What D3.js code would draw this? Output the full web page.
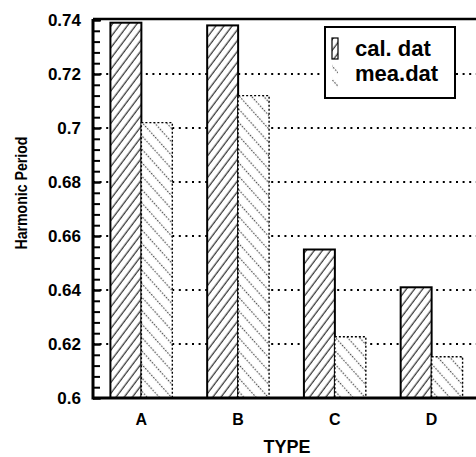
<!DOCTYPE html>
<html>
<head>
<meta charset="utf-8">
<script src="https://d3js.org/d3.v7.min.js"></script>
<style>
  body { margin: 0; background: #fff; }
  svg { display: block; font-family: "Liberation Sans", Arial, Helvetica, sans-serif; }
</style>
</head>
<body>
<div id="chart"></div>
<script>
// Harmonic period per type, calculated vs measured
const types = ['A', 'B', 'C', 'D'];
const calValues = [0.739, 0.738, 0.655, 0.641];
const meaValues = [0.702, 0.712, 0.6227, 0.6153];
const seriesNames = ['cal. dat', 'mea.dat'];
const majorTicks = [0.6, 0.62, 0.64, 0.66, 0.68, 0.7, 0.72, 0.74];
const tickLabels = ['0.6', '0.62', '0.64', '0.66', '0.68', '0.7', '0.72', '0.74'];

const width = 476, height = 457;
const plotLeft = 93, plotRight = 480, plotTop = 20, plotBottom = 398;

const svg = d3.select('#chart').append('svg')
    .attr('width', width)
    .attr('height', height);

// hatch patterns
const defs = svg.append('defs');
const calPat = defs.append('pattern')
    .attr('id', 'calHatch')
    .attr('patternUnits', 'userSpaceOnUse')
    .attr('width', 6.5).attr('height', 6.5)
    .attr('patternTransform', 'rotate(37)');
calPat.append('rect').attr('width', 6.5).attr('height', 6.5).attr('fill', '#fff');
calPat.append('line')
    .attr('x1', 3).attr('y1', 0).attr('x2', 3).attr('y2', 6.5)
    .attr('stroke', '#000').attr('stroke-width', 1);

const meaPat = defs.append('pattern')
    .attr('id', 'meaHatch')
    .attr('patternUnits', 'userSpaceOnUse')
    .attr('width', 9).attr('height', 9)
    .attr('patternTransform', 'rotate(-42)');
meaPat.append('rect').attr('width', 9).attr('height', 9).attr('fill', '#fff');
meaPat.append('line')
    .attr('x1', 4.5).attr('y1', 0).attr('x2', 4.5).attr('y2', 9)
    .attr('stroke', '#444').attr('stroke-width', 1.2)
    .attr('stroke-dasharray', '1.5,1.5');

const y = d3.scaleLinear().domain([0.6, 0.74]).range([plotBottom, plotTop]);
const x = d3.scaleBand().domain(types).range([plotLeft, plotRight])
    .paddingInner(0.36).paddingOuter(0.18);
const xs = d3.scaleBand().domain(seriesNames).range([0, x.bandwidth()]);

// dotted grid
svg.append('g')
    .selectAll('line')
    .data(majorTicks.filter(d => d > 0.6 && d < 0.74))
    .join('line')
    .attr('x1', plotLeft).attr('x2', plotRight)
    .attr('y1', d => y(d)).attr('y2', d => y(d))
    .attr('stroke', '#000')
    .attr('stroke-width', 1.8)
    .attr('stroke-dasharray', '2,4.6');

// bars
const rows = types.map((t, i) => ({ type: t, values: [calValues[i], meaValues[i]] }));
const groups = svg.append('g').selectAll('g')
    .data(rows)
    .join('g')
    .attr('transform', d => `translate(${x(d.type)},0)`);

groups.selectAll('rect')
    .data(d => d.values.map((v, j) => ({ name: seriesNames[j], value: v, j })))
    .join('rect')
    .attr('x', d => xs(d.name))
    .attr('y', d => y(d.value))
    .attr('width', xs.bandwidth())
    .attr('height', d => y(0.6) - y(d.value))
    .attr('fill', d => d.j === 0 ? 'url(#calHatch)' : 'url(#meaHatch)')
    .attr('stroke', '#000')
    .attr('stroke-width', d => d.j === 0 ? 2 : 1.4)
    .attr('stroke-dasharray', d => d.j === 0 ? null : '2,2');

// y axis: minor + major ticks pointing inward
const minor = d3.range(0, 36).map(i => 0.6 + i * 0.004);
svg.append('g')
    .attr('transform', `translate(${plotLeft},0)`)
    .call(d3.axisLeft(y).tickValues(minor).tickSize(-7).tickFormat(''))
    .call(g => g.select('.domain').remove())
    .call(g => g.selectAll('line').attr('stroke-width', 2));

svg.append('g')
    .attr('transform', `translate(${plotLeft},0)`)
    .call(d3.axisLeft(y).tickValues(majorTicks).tickSize(-8).tickPadding(12)
        .tickFormat((d, i) => tickLabels[i]))
    .call(g => g.select('.domain').remove())
    .call(g => g.selectAll('line').attr('stroke-width', 2))
    .call(g => g.selectAll('text')
        .attr('font-size', 17).attr('font-weight', 'bold')
        .attr('font-family', '"Liberation Sans", Arial, sans-serif')
        .attr('fill', '#000'));

// frame lines
svg.append('line').attr('x1', plotLeft).attr('x2', plotLeft).attr('y1', plotTop - 1).attr('y2', plotBottom + 1.5)
    .attr('stroke', '#000').attr('stroke-width', 3);
svg.append('line').attr('x1', plotLeft).attr('x2', plotRight).attr('y1', plotBottom).attr('y2', plotBottom)
    .attr('stroke', '#000').attr('stroke-width', 3);
svg.append('line').attr('x1', plotLeft).attr('x2', plotRight).attr('y1', plotTop - 1).attr('y2', plotTop - 1)
    .attr('stroke', '#000').attr('stroke-width', 2.5);

// x tick labels
svg.append('g')
    .attr('transform', `translate(0,${plotBottom})`)
    .call(d3.axisBottom(x).tickSize(0).tickPadding(16))
    .call(g => g.select('.domain').remove())
    .call(g => g.selectAll('text')
        .attr('font-size', 16).attr('font-weight', 'bold')
        .attr('font-family', '"Liberation Sans", Arial, sans-serif')
        .attr('fill', '#000'));

// axis titles
svg.append('text')
    .attr('x', 287).attr('y', 453)
    .attr('text-anchor', 'middle')
    .attr('font-size', 18).attr('font-weight', 'bold')
    .text('TYPE');

svg.append('text')
    .attr('transform', 'translate(27,193) rotate(-90)')
    .attr('text-anchor', 'middle')
    .attr('font-size', 16).attr('font-weight', 'bold')
    .attr('textLength', 113).attr('lengthAdjust', 'spacingAndGlyphs')
    .text('Harmonic Period');

// legend
const legend = svg.append('g');
legend.append('rect')
    .attr('x', 325).attr('y', 27).attr('width', 130).attr('height', 71)
    .attr('fill', '#fff').attr('stroke', '#000').attr('stroke-width', 2);
legend.selectAll('.sw')
    .data(seriesNames)
    .join('rect')
    .attr('class', 'sw')
    .attr('x', 332)
    .attr('y', (d, i) => i === 0 ? 38 : 64)
    .attr('width', 6)
    .attr('height', (d, i) => i === 0 ? 21 : 24)
    .attr('fill', (d, i) => i === 0 ? 'url(#calHatch)' : 'url(#meaHatch)')
    .attr('stroke', (d, i) => i === 0 ? '#000' : 'none')
    .attr('stroke-width', 1.2);
legend.selectAll('.lt')
    .data(seriesNames)
    .join('text')
    .attr('class', 'lt')
    .attr('x', 355)
    .attr('y', (d, i) => i === 0 ? 56 : 81)
    .attr('font-size', 22).attr('font-weight', 'bold')
    .text(d => d);
</script>
</body>
</html>
